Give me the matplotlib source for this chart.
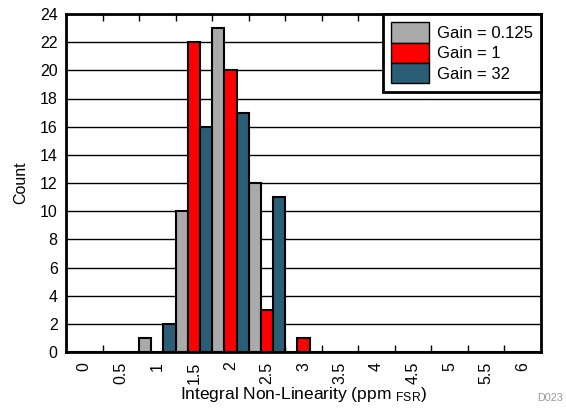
import matplotlib
matplotlib.use("Agg")
import matplotlib.pyplot as plt
import numpy as np

categories = ["0", "0.5", "1", "1.5", "2", "2.5", "3", "3.5", "4", "4.5", "5", "5.5", "6"]
gain_0125 = [0, 0, 1, 10, 23, 12, 0, 0, 0, 0, 0, 0, 0]
gain_1 = [0, 0, 0, 22, 20, 3, 1, 0, 0, 0, 0, 0, 0]
gain_32 = [0, 0, 2, 16, 17, 11, 0, 0, 0, 0, 0, 0, 0]
series_labels = ["Gain = 0.125", "Gain = 1", "Gain = 32"]
colors = ["#AAAAAA", "#FF0000", "#2A5E76"]

plt.rcParams['font.family'] = ['Liberation Sans', 'DejaVu Sans']
FS = 11.5

fig = plt.figure(figsize=(5.66, 4.12), dpi=100)
ax = fig.add_axes([66/566, 1 - 352/412, (541-66)/566, (352-14)/412])

x = np.arange(len(categories))
w = 1/3
for k, (vals, lab, c) in enumerate(zip([gain_0125, gain_1, gain_32], series_labels, colors)):
    ax.bar(x + (k - 1) * w, vals, width=w, color=c, edgecolor='black', linewidth=1.5,
           label=lab, zorder=3)

ax.set_xlim(-0.5, len(categories) - 0.5)
ax.set_ylim(0, 24)
ax.set_yticks(np.arange(0, 25, 2))
ax.tick_params(axis='y', length=0, labelsize=FS, pad=6)
ax.yaxis.grid(True, color='black', linewidth=1, zorder=0)
ax.set_axisbelow(True)

ax.set_xticks(x)
ax.set_xticklabels(categories, rotation=90, fontsize=FS)
ax.tick_params(axis='x', which='major', length=0, pad=7)
ax.set_xticks(np.arange(0.5, len(categories) - 0.5, 1), minor=True)
ax.tick_params(axis='x', which='minor', direction='in', length=5, width=1, top=True, bottom=True)

for s in ax.spines.values():
    s.set_linewidth(2)
    s.set_color('black')

ax.set_ylabel("Count", fontsize=FS, labelpad=8)
ax.set_xlabel(r"Integral Non-Linearity (ppm $\mathregular{_{FSR}}$)", fontsize=12.5, labelpad=1)

leg = ax.legend(loc='upper right', fontsize=12, frameon=True, fancybox=False,
                borderaxespad=0, handlelength=2.3, handleheight=1.5, handletextpad=0.45,
                labelspacing=0.0, borderpad=0.5)
leg.get_frame().set_edgecolor('black')
leg.get_frame().set_linewidth(2)
leg.get_frame().set_alpha(1)
for p in leg.get_patches():
    p.set_linewidth(1)

fig.text(550/566, 1 - 398/412, "D023", fontsize=7.8, color='#999999', ha='center', va='center')

fig.savefig("out.png", dpi=100)
